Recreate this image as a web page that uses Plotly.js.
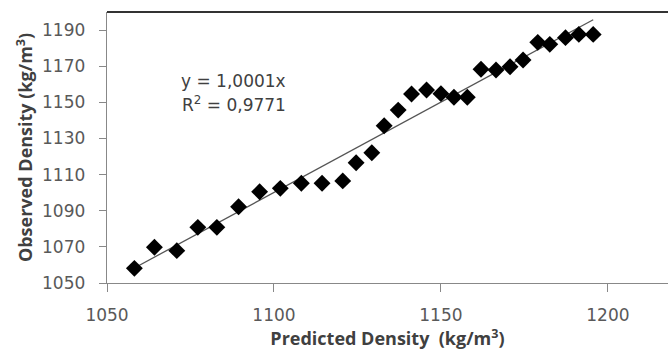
<!DOCTYPE html>
<html><head><meta charset="utf-8">
<script src="https://cdn.plot.ly/plotly-3.0.1.min.js"></script>
<style>html,body{margin:0;padding:0;background:#fff}#c{width:668px;height:352px}</style>
</head><body><div id="c"></div>
<script>
const predicted = [1058.2,1064.2,1070.9,1077.2,1082.9,1089.4,1095.7,1101.9,1108.2,1114.4,1120.6,1124.6,1129.3,1133.0,1137.2,1141.2,1145.7,1150.0,1153.9,1157.9,1162.0,1166.5,1170.7,1174.6,1179.0,1182.6,1187.3,1191.3,1195.6];
const observed  = [1058.1,1069.8,1067.9,1080.8,1080.8,1092.2,1100.5,1102.4,1105.2,1105.2,1106.5,1116.6,1122.1,1137.0,1145.7,1154.6,1156.8,1154.8,1152.8,1152.8,1168.3,1167.9,1169.7,1173.4,1183.2,1182.1,1185.8,1187.6,1187.6];
const slope = 1.0001;
const eqText = "y = 1,0001x";
const r2Text = "R<sup>2</sup> = 0,9771";
const xTicks = [1050,1100,1150,1200];
const yTicks = [1050,1070,1090,1110,1130,1150,1170,1190];

const xMin = Math.min(...predicted), xMax = Math.max(...predicted);
const trendX = [xMin, xMax];
const trendY = trendX.map(v => slope * v);

const tickFont = {family: "DejaVu Sans, sans-serif", size: 17, color: "#595959"};
const titleFont = {family: "Open Sans, sans-serif", size: 18, color: "#404040", weight: "bold"};

const data = [
  {x: trendX, y: trendY, mode: "lines", type: "scatter", line: {color: "#555", width: 1.3}, hoverinfo: "skip"},
  {x: predicted, y: observed, mode: "markers", type: "scatter", marker: {symbol: "diamond", size: 13, color: "#000"}}
];
const layout = {
  width: 668, height: 352,
  margin: {l: 107, r: 0, t: 12, b: 69},
  showlegend: false,
  paper_bgcolor: "#fff", plot_bgcolor: "#fff",
  xaxis: {range: [1050, 1218], tickvals: xTicks, ticks: "outside", ticklen: 8, tickcolor: "#888",
    showgrid: false, zeroline: false, showline: true, linecolor: "#888", linewidth: 1.3,
    tickfont: tickFont, ticklabelstandoff: 8,
    title: {text: "Predicted Density  (kg/m<sup>3</sup>)", font: titleFont, standoff: 2}},
  yaxis: {range: [1050, 1200], tickvals: yTicks, ticks: "outside", ticklen: 7, tickcolor: "#888",
    showgrid: false, zeroline: false, showline: true, linecolor: "#888", linewidth: 1.3,
    tickfont: tickFont, ticklabelstandoff: 10,
    title: {text: "Observed Density (kg/m<sup>3</sup>)", font: titleFont, standoff: 4}},
  shapes: [{type: "line", xref: "paper", yref: "paper", x0: 0, x1: 1, y0: 1, y1: 1, line: {color: "#333", width: 2}}],
  annotations: [
    {xref: "x", yref: "y", x: 1088, y: 1162, text: eqText, showarrow: false, font: {family: "DejaVu Sans, sans-serif", size: 17, color: "#404040"}},
    {xref: "x", yref: "y", x: 1088, y: 1149, text: r2Text, showarrow: false, font: {family: "DejaVu Sans, sans-serif", size: 17, color: "#404040"}}
  ]
};
Plotly.newPlot("c", data, layout, {displayModeBar: false, staticPlot: true});
</script></body></html>
